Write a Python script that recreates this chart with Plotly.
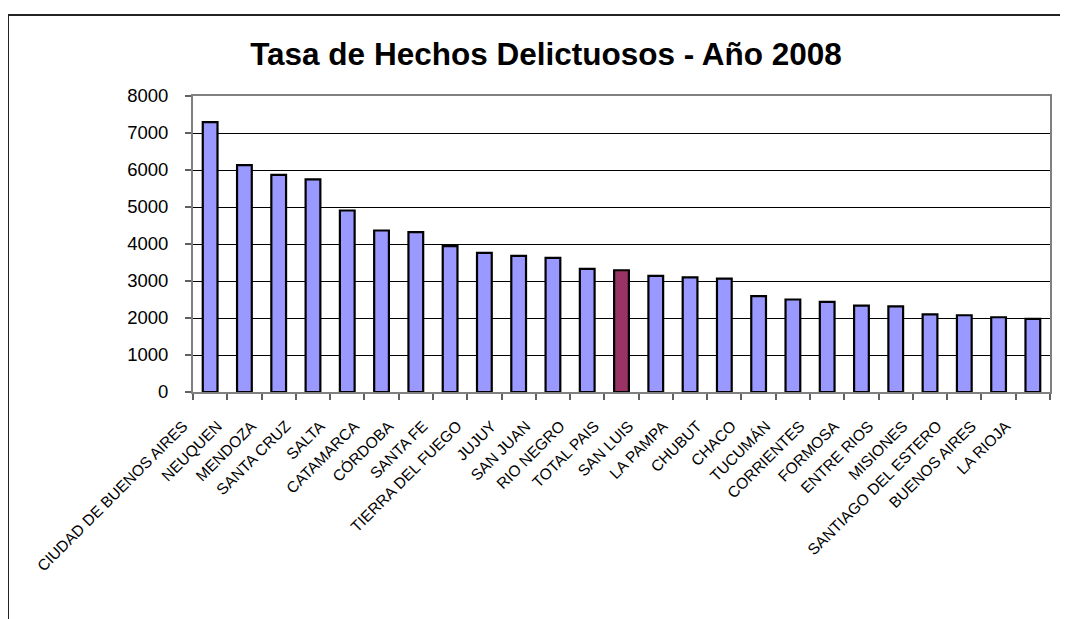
import plotly.graph_objects as go

categories = ["CIUDAD DE BUENOS AIRES", "NEUQUEN", "MENDOZA", "SANTA CRUZ", "SALTA",
              "CATAMARCA", "CÓRDOBA", "SANTA FE", "TIERRA DEL FUEGO", "JUJUY",
              "SAN JUAN", "RIO NEGRO", "TOTAL PAIS", "SAN LUIS", "LA PAMPA", "CHUBUT",
              "CHACO", "TUCUMÁN", "CORRIENTES", "FORMOSA", "ENTRE RIOS", "MISIONES",
              "SANTIAGO DEL ESTERO", "BUENOS AIRES", "LA RIOJA"]
values = [7295, 6130, 5870, 5745, 4905, 4365, 4320, 3940, 3760, 3680,
          3625, 3330, 3290, 3140, 3100, 3065, 2590, 2500, 2435, 2335,
          2315, 2100, 2075, 2020, 1975]
highlight = "TOTAL PAIS"
y_ticks = [0, 1000, 2000, 3000, 4000, 5000, 6000, 7000, 8000]

colors = ["#993366" if c == highlight else "#9999FF" for c in categories]

# page body has an 8px margin, so figure pixel p lands at screen p+8
OFF = 8
W, H = 1068 - OFF, 619 - OFF
ML, MT = 193 - OFF, 96 - OFF
PLOT_R, PLOT_B = 1050 - OFF, 392 - OFF
MR, MB = W - PLOT_R, H - PLOT_B

fig = go.Figure(go.Bar(
    x=categories, y=values,
    marker=dict(color=colors, line=dict(color="black", width=2.2)),
))

pw = W - ML - MR
ph = H - MT - MB
def px_x(p):
    return (p - OFF - ML) / pw
def px_y(p):
    return (H - MB - (p - OFF)) / ph

fig.update_layout(
    width=W, height=H,
    margin=dict(l=ML, r=MR, t=MT, b=MB, pad=0),
    paper_bgcolor="white", plot_bgcolor="white",
    bargap=0.57,
    showlegend=False,
    font=dict(family="Liberation Sans, Arial, sans-serif", color="black"),
    title=dict(text="<b>Tasa de Hechos Delictuosos - Año 2008</b>",
               x=px_x(546), xref="paper", xanchor="center",
               y=1 - (54 - OFF) / H, yanchor="middle",
               font=dict(size=31.5, color="black")),
    xaxis=dict(
        type="category",
        showline=True, linecolor="#808080", linewidth=2, mirror=True,
        ticks="outside", tickson="boundaries", ticklen=6, tickcolor="#606060", tickwidth=1.5,
        tickangle=-45, tickfont=dict(size=15.5, color="black"),
        ticklabelshift=-27, ticklabelstandoff=17,
        showgrid=False,
    ),
    yaxis=dict(
        range=[0, 8000], tickvals=y_ticks,
        showline=True, linecolor="#808080", linewidth=2, mirror=True,
        ticks="outside", ticklen=6, tickcolor="#606060", tickwidth=1.5,
        tickfont=dict(size=18.5, color="black"),
        ticklabelstandoff=13,
        showgrid=True, gridcolor="black", gridwidth=1,
        zeroline=False,
    ),
    shapes=[
        dict(type="line", xref="paper", yref="paper",
             x0=px_x(8), x1=px_x(8), y0=px_y(15), y1=px_y(640),
             line=dict(color="#222222", width=2)),
        dict(type="line", xref="paper", yref="paper",
             x0=px_x(8), x1=px_x(1090), y0=px_y(15), y1=px_y(15),
             line=dict(color="#222222", width=2)),
    ],
)

fig.write_html("out.html")
